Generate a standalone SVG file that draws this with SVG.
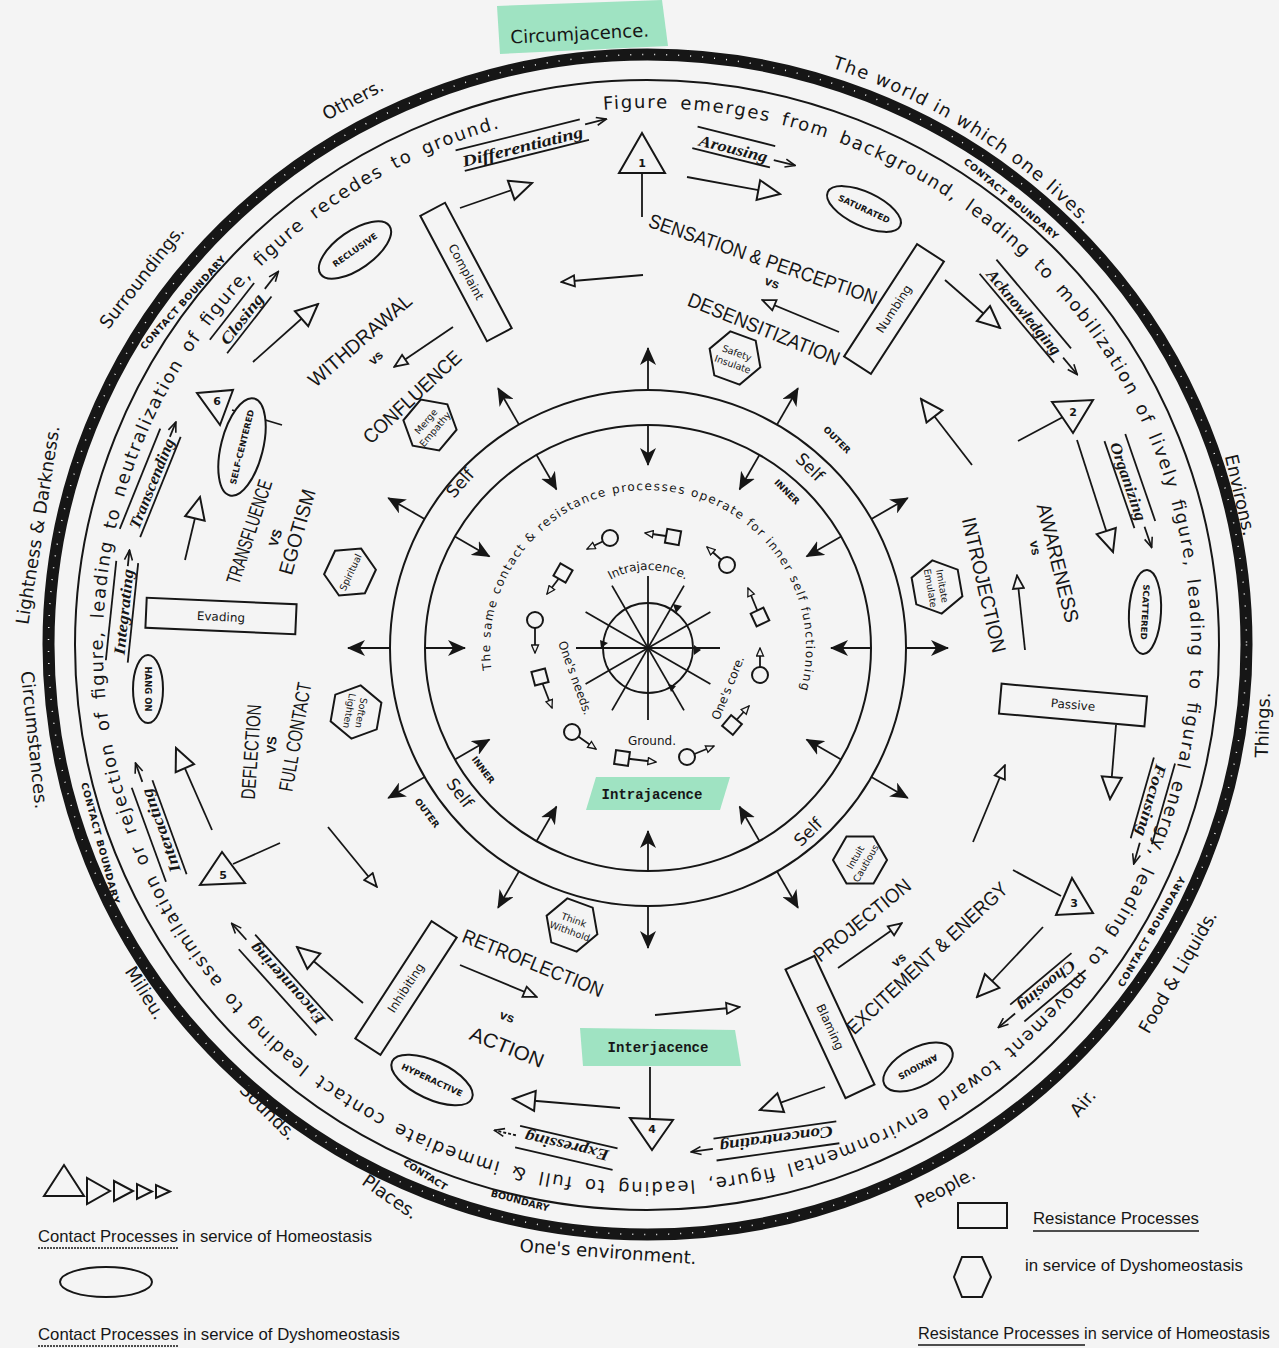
<svg xmlns="http://www.w3.org/2000/svg" width="1279" height="1348" viewBox="0 0 1279 1348">
<defs>
<style>
.ln{stroke:#161616;stroke-width:1.8;fill:none}
.shape{fill:#f4f4f4;stroke:#161616;stroke-width:2}
.ring{font-family:"DejaVu Sans",sans-serif;font-size:18px;fill:#161616;word-spacing:4px}
.out{font-family:"DejaVu Sans",sans-serif;font-size:18px;fill:#161616}
.cb{font-family:"DejaVu Sans",sans-serif;font-size:9.5px;font-weight:bold;fill:#161616}
.big{font-family:"Liberation Sans",sans-serif;font-size:20px;fill:#161616}
.vs{font-family:"Liberation Sans",sans-serif;font-size:13px;fill:#161616;font-weight:bold}
.flow{font-family:"Liberation Serif",serif;font-style:italic;font-weight:bold;font-size:16px;fill:#161616}
.node{font-family:"DejaVu Sans",sans-serif;font-size:12px;fill:#161616}
.el{font-family:"DejaVu Sans",sans-serif;font-size:8.5px;font-weight:bold;fill:#161616}
.hx{font-family:"DejaVu Sans",sans-serif;font-size:9.5px;fill:#161616}
.num{font-family:"DejaVu Sans",sans-serif;font-size:11px;font-weight:bold;fill:#161616}
.self{font-family:"DejaVu Sans",sans-serif;font-size:17px;fill:#161616}
.io{font-family:"DejaVu Sans",sans-serif;font-size:9px;font-weight:bold;fill:#161616}
.core{font-family:"DejaVu Sans",sans-serif;font-size:12px;fill:#161616}
.mono{font-family:"Liberation Mono",monospace;font-size:14px;font-weight:bold;fill:#161616}
.leg{font-family:"Liberation Sans",sans-serif;font-size:17px;fill:#161616}
.hl{fill:#8fdfb8;opacity:0.85}
</style>
<marker id="ot" viewBox="0 0 26 24" refX="24" refY="12" markerWidth="26" markerHeight="24" orient="auto" markerUnits="userSpaceOnUse"><path d="M2,2 L24,12 L2,22 Z" fill="#f4f4f4" stroke="#161616" stroke-width="2"/></marker>
<marker id="os" viewBox="0 0 16 14" refX="15" refY="7" markerWidth="16" markerHeight="14" orient="auto" markerUnits="userSpaceOnUse"><path d="M1.5,1.5 L14.5,7 L1.5,12.5 Z" fill="#f4f4f4" stroke="#161616" stroke-width="1.8"/></marker>
<marker id="oc" viewBox="0 0 10 9" refX="9" refY="4.5" markerWidth="10" markerHeight="9" orient="auto" markerUnits="userSpaceOnUse"><path d="M1,1 L9,4.5 L1,8 Z" fill="#f4f4f4" stroke="#161616" stroke-width="1.3"/></marker>
<marker id="ft" viewBox="0 0 18 16" refX="17" refY="8" markerWidth="18" markerHeight="16" orient="auto" markerUnits="userSpaceOnUse"><path d="M0,0 L18,8 L0,16 L5,8 Z" fill="#161616"/></marker>
<marker id="la" viewBox="0 0 12 10" refX="11" refY="5" markerWidth="12" markerHeight="10" orient="auto" markerUnits="userSpaceOnUse"><path d="M1,1 L11,5 L1,9" fill="none" stroke="#161616" stroke-width="1.6"/></marker>
<path id="ringPath" d="M599.6,110 A544,537 0 1 1 694.4,1180 A544,537 0 1 1 599.6,110"/>
<path id="worldPath" d="M824.2,65.5 A606,606 0 0 1 1097.3,239.5"/>
<path id="corePath" d="M491.5,670 A158,158 0 1 1 796.5,702"/>
<path id="intraPath" d="M603.3,584.1 A78,78 0 0 1 692.7,584.1"/>
</defs>

<rect width="1279" height="1348" fill="#f4f4f4"/>

<g id="rings">
<ellipse cx="647.5" cy="644.5" rx="599" ry="590" fill="none" stroke="#161616" stroke-width="12"/>
<ellipse cx="647.5" cy="644.5" rx="599" ry="590" fill="none" stroke="#f4f4f4" stroke-width="1.5" stroke-dasharray="1 11"/>
<ellipse cx="647" cy="645" rx="572" ry="565" fill="none" stroke="#161616" stroke-width="2"/>
<circle cx="648" cy="648" r="258" fill="none" stroke="#161616" stroke-width="2"/>
<circle cx="648" cy="648" r="223" fill="none" stroke="#161616" stroke-width="2"/>
</g>

<g id="highlights">
<polygon class="hl" points="497,6 662,0 668,46 500,54"/>
<polygon class="hl" points="596,777 730,777 720,810 586,810"/>
<polygon class="hl" points="580,1028 735,1030 741,1066 583,1066"/>
</g>

<g id="core-star">
<circle cx="648" cy="648" r="45" fill="none" stroke="#161616" stroke-width="1.8"/>
<line class="ln" x1="576" y1="648" x2="720" y2="648"/>
<line class="ln" x1="648" y1="576" x2="648" y2="720"/>
<line class="ln" x1="585.6" y1="612" x2="710.4" y2="684"/>
<line class="ln" x1="585.6" y1="684" x2="710.4" y2="612"/>
<line class="ln" x1="612" y1="585.6" x2="684" y2="710.4"/>
<line class="ln" x1="612" y1="710.4" x2="684" y2="585.6"/>
<polygon points="673,604 682,606 676,613" fill="#161616"/>
<polygon points="600,640 608,643 601,648" fill="#161616"/>
<polygon points="694,645 701,650 694,655" fill="#161616"/>
<polygon points="668,684 676,686 671,692" fill="#161616"/>
</g>

<g id="connectors">
<line class="ln" x1="460" y1="208" x2="532" y2="183" marker-end="url(#ot)"/>
<line class="ln" x1="687" y1="177" x2="780" y2="194" marker-end="url(#ot)"/>
<line class="ln" x1="642" y1="173" x2="642" y2="217"/>
<line class="ln" x1="945" y1="280" x2="1000" y2="328" marker-end="url(#ot)"/>
<line class="ln" x1="1018" y1="441" x2="1063" y2="417"/>
<line class="ln" x1="972" y1="465" x2="921" y2="399" marker-end="url(#ot)"/>
<line class="ln" x1="1077" y1="440" x2="1113" y2="552" marker-end="url(#ot)"/>
<line class="ln" x1="1025" y1="650" x2="1017" y2="575" marker-end="url(#os)"/>
<line class="ln" x1="1116" y1="725" x2="1110" y2="799" marker-end="url(#ot)"/>
<line class="ln" x1="973" y1="842" x2="1005" y2="765" marker-end="url(#os)"/>
<line class="ln" x1="1013" y1="870" x2="1061" y2="896"/>
<line class="ln" x1="1043" y1="927" x2="977" y2="997" marker-end="url(#ot)"/>
<line class="ln" x1="838" y1="968" x2="902" y2="923" marker-end="url(#os)"/>
<line class="ln" x1="825" y1="1087" x2="760" y2="1110" marker-end="url(#ot)"/>
<line class="ln" x1="655" y1="1015" x2="740" y2="1007" marker-end="url(#os)"/>
<line class="ln" x1="650" y1="1067" x2="650" y2="1119"/>
<line class="ln" x1="620" y1="1108" x2="513" y2="1099" marker-end="url(#ot)"/>
<line class="ln" x1="460" y1="965" x2="537" y2="997" marker-end="url(#os)"/>
<line class="ln" x1="363" y1="1003" x2="297" y2="947" marker-end="url(#ot)"/>
<line class="ln" x1="280" y1="843" x2="233" y2="864"/>
<line class="ln" x1="212" y1="830" x2="176" y2="748" marker-end="url(#ot)"/>
<line class="ln" x1="328" y1="827" x2="377" y2="887" marker-end="url(#os)"/>
<line class="ln" x1="185" y1="560" x2="200" y2="497" marker-end="url(#ot)"/>
<line class="ln" x1="282" y1="425" x2="232" y2="410"/>
<line class="ln" x1="253" y1="362" x2="318" y2="304" marker-end="url(#ot)"/>
<line class="ln" x1="453" y1="327" x2="394" y2="367" marker-end="url(#os)"/>
<line class="ln" x1="643" y1="275" x2="561" y2="282" marker-end="url(#os)"/>
<line class="ln" x1="839" y1="332" x2="762" y2="300" marker-end="url(#os)"/>
<g id="inward-arrows">
<line class="ln" x1="871" y1="648" x2="831" y2="648" marker-end="url(#ft)"/>
<line class="ln" x1="841.1" y1="759.5" x2="806.5" y2="739.5" marker-end="url(#ft)"/>
<line class="ln" x1="759.5" y1="841.1" x2="739.5" y2="806.5" marker-end="url(#ft)"/>
<line class="ln" x1="648" y1="871" x2="648" y2="831" marker-end="url(#ft)"/>
<line class="ln" x1="536.5" y1="841.1" x2="556.5" y2="806.5" marker-end="url(#ft)"/>
<line class="ln" x1="454.9" y1="759.5" x2="489.5" y2="739.5" marker-end="url(#ft)"/>
<line class="ln" x1="425" y1="648" x2="465" y2="648" marker-end="url(#ft)"/>
<line class="ln" x1="454.9" y1="536.5" x2="489.5" y2="556.5" marker-end="url(#ft)"/>
<line class="ln" x1="536.5" y1="454.9" x2="556.5" y2="489.5" marker-end="url(#ft)"/>
<line class="ln" x1="648" y1="425" x2="648" y2="465" marker-end="url(#ft)"/>
<line class="ln" x1="759.5" y1="454.9" x2="739.5" y2="489.5" marker-end="url(#ft)"/>
<line class="ln" x1="841.1" y1="536.5" x2="806.5" y2="556.5" marker-end="url(#ft)"/>
</g>
<g id="outward-arrows">
<line class="ln" x1="906" y1="648" x2="948" y2="648" marker-end="url(#ft)"/>
<line class="ln" x1="871.4" y1="777" x2="907.8" y2="798" marker-end="url(#ft)"/>
<line class="ln" x1="777" y1="871.4" x2="798" y2="907.8" marker-end="url(#ft)"/>
<line class="ln" x1="648" y1="906" x2="648" y2="948" marker-end="url(#ft)"/>
<line class="ln" x1="519" y1="871.4" x2="498" y2="907.8" marker-end="url(#ft)"/>
<line class="ln" x1="424.6" y1="777" x2="388.2" y2="798" marker-end="url(#ft)"/>
<line class="ln" x1="390" y1="648" x2="348" y2="648" marker-end="url(#ft)"/>
<line class="ln" x1="424.6" y1="519" x2="388.2" y2="498" marker-end="url(#ft)"/>
<line class="ln" x1="519" y1="424.6" x2="498" y2="388.2" marker-end="url(#ft)"/>
<line class="ln" x1="648" y1="390" x2="648" y2="348" marker-end="url(#ft)"/>
<line class="ln" x1="777" y1="424.6" x2="798" y2="388.2" marker-end="url(#ft)"/>
<line class="ln" x1="871.4" y1="519" x2="907.8" y2="498" marker-end="url(#ft)"/>
</g>
<g id="core-arrows">
<line class="ln" x1="610" y1="538" x2="587" y2="549" marker-end="url(#oc)"/>
<line class="ln" x1="673" y1="537" x2="645" y2="533" marker-end="url(#oc)"/>
<line class="ln" x1="727" y1="565" x2="707" y2="547" marker-end="url(#oc)"/>
<line class="ln" x1="760" y1="617" x2="748" y2="588" marker-end="url(#oc)"/>
<line class="ln" x1="760" y1="675" x2="760" y2="648" marker-end="url(#oc)"/>
<line class="ln" x1="732" y1="725" x2="749" y2="706" marker-end="url(#oc)"/>
<line class="ln" x1="687" y1="757" x2="714" y2="746" marker-end="url(#oc)"/>
<line class="ln" x1="622" y1="758" x2="656" y2="762" marker-end="url(#oc)"/>
<line class="ln" x1="572" y1="732" x2="596" y2="749" marker-end="url(#oc)"/>
<line class="ln" x1="540" y1="677" x2="552" y2="708" marker-end="url(#oc)"/>
<line class="ln" x1="535" y1="620" x2="535" y2="653" marker-end="url(#oc)"/>
<line class="ln" x1="563" y1="573" x2="547" y2="594" marker-end="url(#oc)"/>
</g>
</g>

<g id="core-icons">
<circle class="shape" cx="610" cy="538" r="8" stroke-width="1.6"/>
<rect class="shape" x="666" y="530" width="14" height="14" transform="rotate(10 673 537)" stroke-width="1.6"/>
<circle class="shape" cx="727" cy="565" r="8" stroke-width="1.6"/>
<rect class="shape" x="753" y="610" width="14" height="14" transform="rotate(-25 760 617)" stroke-width="1.6"/>
<circle class="shape" cx="760" cy="675" r="8" stroke-width="1.6"/>
<rect class="shape" x="725" y="718" width="14" height="14" transform="rotate(40 732 725)" stroke-width="1.6"/>
<circle class="shape" cx="687" cy="757" r="8" stroke-width="1.6"/>
<rect class="shape" x="615" y="751" width="14" height="14" transform="rotate(8 622 758)" stroke-width="1.6"/>
<circle class="shape" cx="572" cy="732" r="8" stroke-width="1.6"/>
<rect class="shape" x="533" y="670" width="14" height="14" transform="rotate(-15 540 677)" stroke-width="1.6"/>
<circle class="shape" cx="535" cy="620" r="8" stroke-width="1.6"/>
<rect class="shape" x="556" y="566" width="14" height="14" transform="rotate(30 563 573)" stroke-width="1.6"/>
</g>

<g id="core-texts">
<text class="core"><textPath href="#intraPath" startOffset="50%" text-anchor="middle">Intrajacence.</textPath></text>
<text class="core" transform="translate(728,688) rotate(-68)" text-anchor="middle" dy="4">One's core.</text>
<text class="core" x="652" y="745" text-anchor="middle">Ground.</text>
<text class="core" transform="translate(575,678) rotate(70)" text-anchor="middle" dy="4">One's needs.</text>
<text class="core" font-size="12.5"><textPath href="#corePath" textLength="560" lengthAdjust="spacing">The same contact &amp; resistance processes operate for inner self functioning</textPath></text>
<text class="mono" x="652" y="799" text-anchor="middle">Intrajacence</text>
<text class="mono" x="658" y="1052" text-anchor="middle">Interjacence</text>
</g>

<g id="self-labels">
<text class="self" transform="translate(460,483) rotate(-48)" text-anchor="middle" dy="6">Self</text>
<text class="io" transform="translate(837,440) rotate(45)" text-anchor="middle" dy="3">OUTER</text>
<text class="self" transform="translate(810,467) rotate(45)" text-anchor="middle" dy="6">Self</text>
<text class="io" transform="translate(787,492) rotate(45)" text-anchor="middle" dy="3">INNER</text>
<text class="io" transform="translate(483,770) rotate(53)" text-anchor="middle" dy="3">INNER</text>
<text class="self" transform="translate(460,793) rotate(53)" text-anchor="middle" dy="6">Self</text>
<text class="io" transform="translate(427,813) rotate(53)" text-anchor="middle" dy="3">OUTER</text>
<text class="self" transform="translate(808,832) rotate(-45)" text-anchor="middle" dy="6">Self</text>
</g>

<g id="ring-text">
<text class="ring"><textPath href="#ringPath" startOffset="4" textLength="3290" lengthAdjust="spacing">Figure emerges from background, leading to mobilization of lively figure, leading to figural energy, leading to movement toward environmental figure, leading to full &amp; immediate contact leading to assimilation or rejection of figure, leading to neutralization of figure, figure recedes to ground.</textPath></text>
</g>

<g id="outer-labels">
<text class="out" transform="translate(580,40) rotate(-3)" text-anchor="middle">Circumjacence.</text>
<text class="out" font-size="19"><textPath href="#worldPath" startOffset="8" textLength="300" lengthAdjust="spacing">The world in which one lives.</textPath></text>
<text class="out" transform="translate(1240,495) rotate(77)" text-anchor="middle" dy="6">Environs.</text>
<text class="out" transform="translate(1263,725) rotate(-88)" text-anchor="middle" dy="6">Things.</text>
<text class="out" transform="translate(1178,972) rotate(-60)" text-anchor="middle" dy="6">Food &amp; Liquids.</text>
<text class="out" transform="translate(1083,1103) rotate(-50)" text-anchor="middle" dy="6">Air.</text>
<text class="out" transform="translate(945,1188) rotate(-28)" text-anchor="middle" dy="6">People.</text>
<text class="out" transform="translate(608,1252) rotate(4)" text-anchor="middle" dy="6">One's environment.</text>
<text class="out" transform="translate(390,1197) rotate(35)" text-anchor="middle" dy="6">Places.</text>
<text class="out" transform="translate(268,1112) rotate(45)" text-anchor="middle" dy="6">Sounds.</text>
<text class="out" transform="translate(145,993) rotate(58)" text-anchor="middle" dy="6">Milieu.</text>
<text class="out" transform="translate(34,740) rotate(84)" text-anchor="middle" dy="6">Circumstances.</text>
<text class="out" transform="translate(38,525) rotate(-81)" text-anchor="middle" dy="6">Lightness &amp; Darkness.</text>
<text class="out" transform="translate(142,277) rotate(-52)" text-anchor="middle" dy="6">Surroundings.</text>
<text class="out" transform="translate(353,100) rotate(-28)" text-anchor="middle" dy="6">Others.</text>
</g>

<g id="contact-boundary">
<text class="cb" transform="translate(183,303) rotate(-48)" text-anchor="middle" dy="3" textLength="122" lengthAdjust="spacing">CONTACT  BOUNDARY</text>
<text class="cb" transform="translate(1011,199) rotate(40)" text-anchor="middle" dy="3" textLength="120" lengthAdjust="spacing">CONTACT  BOUNDARY</text>
<text class="cb" transform="translate(1152,932) rotate(-60)" text-anchor="middle" dy="3" textLength="125" lengthAdjust="spacing">CONTACT  BOUNDARY</text>
<text class="cb" transform="translate(425,1175) rotate(32)" text-anchor="middle" dy="3">CONTACT</text>
<text class="cb" transform="translate(520,1201) rotate(15)" text-anchor="middle" dy="3">BOUNDARY</text>
<text class="cb" transform="translate(100,843) rotate(75)" text-anchor="middle" dy="3" textLength="125" lengthAdjust="spacing">CONTACT  BOUNDARY</text>
</g>

<g id="pairs">
<text class="big" transform="translate(763,259) rotate(19)" text-anchor="middle" dy="7" textLength="240" lengthAdjust="spacingAndGlyphs">SENSATION &amp; PERCEPTION</text>
<text class="vs" transform="translate(772,283) rotate(20)" text-anchor="middle" dy="4">vs</text>
<text class="big" transform="translate(764,329) rotate(22)" text-anchor="middle" dy="7" textLength="162" lengthAdjust="spacingAndGlyphs">DESENSITIZATION</text>
<text class="big" transform="translate(360,340) rotate(-41)" text-anchor="middle" dy="7" textLength="130" lengthAdjust="spacingAndGlyphs">WITHDRAWAL</text>
<text class="vs" transform="translate(376,358) rotate(-41)" text-anchor="middle" dy="4">vs</text>
<text class="big" transform="translate(412,397) rotate(-43)" text-anchor="middle" dy="7" textLength="126" lengthAdjust="spacingAndGlyphs">CONFLUENCE</text>
<text class="big" transform="translate(1058,563) rotate(76)" text-anchor="middle" dy="7" textLength="122" lengthAdjust="spacingAndGlyphs">AWARENESS</text>
<text class="vs" transform="translate(1035,548) rotate(80)" text-anchor="middle" dy="4">vs</text>
<text class="big" transform="translate(984,585) rotate(77)" text-anchor="middle" dy="7" textLength="138" lengthAdjust="spacingAndGlyphs">INTROJECTION</text>
<text class="big" transform="translate(862,920) rotate(-39)" text-anchor="middle" dy="7" textLength="119" lengthAdjust="spacingAndGlyphs">PROJECTION</text>
<text class="vs" transform="translate(899,960) rotate(-40)" text-anchor="middle" dy="4">vs</text>
<text class="big" transform="translate(927,958) rotate(-43)" text-anchor="middle" dy="7" textLength="212" lengthAdjust="spacingAndGlyphs">EXCITEMENT &amp; ENERGY</text>
<text class="big" transform="translate(533,963) rotate(22)" text-anchor="middle" dy="7" textLength="150" lengthAdjust="spacingAndGlyphs">RETROFLECTION</text>
<text class="vs" transform="translate(507,1017) rotate(20)" text-anchor="middle" dy="4">vs</text>
<text class="big" transform="translate(507,1047) rotate(22)" text-anchor="middle" dy="7" textLength="78" lengthAdjust="spacingAndGlyphs">ACTION</text>
<text class="big" font-size="17" transform="translate(252,752) rotate(-86)" text-anchor="middle" dy="6" textLength="95" lengthAdjust="spacingAndGlyphs">DEFLECTION</text>
<text class="vs" transform="translate(272,745) rotate(-86)" text-anchor="middle" dy="4">VS</text>
<text class="big" font-size="17" transform="translate(296,737) rotate(-80)" text-anchor="middle" dy="6" textLength="110" lengthAdjust="spacingAndGlyphs">FULL CONTACT</text>
<text class="big" font-size="18" transform="translate(250,532) rotate(-72)" text-anchor="middle" dy="6" textLength="108" lengthAdjust="spacingAndGlyphs">TRANSFLUENCE</text>
<text class="vs" transform="translate(276,538) rotate(-72)" text-anchor="middle" dy="4">VS</text>
<text class="big" font-size="18" transform="translate(298,532) rotate(-74)" text-anchor="middle" dy="6" textLength="88" lengthAdjust="spacingAndGlyphs">EGOTISM</text>
</g>

<g id="flow-labels">
<g id="f-differentiating" transform="translate(523,148) rotate(-14)"><line class="ln" x1="-66" y1="-14" x2="62" y2="-14"/><text class="flow" y="4" text-anchor="middle" textLength="124" lengthAdjust="spacingAndGlyphs">Differentiating</text><line class="ln" x1="-62" y1="8" x2="66" y2="8"/><line class="ln" x1="66" y1="-8" x2="88" y2="-8" marker-end="url(#la)"/></g>
<g id="f-arousing" transform="translate(733,150) rotate(14)"><line class="ln" x1="-40" y1="-14" x2="40" y2="-14"/><text class="flow" y="4" text-anchor="middle" textLength="70" lengthAdjust="spacingAndGlyphs">Arousing</text><line class="ln" x1="-40" y1="8" x2="40" y2="8"/><line class="ln" x1="42" y1="0" x2="64" y2="0" marker-end="url(#la)"/></g>
<g id="f-acknowledging" transform="translate(1023,313) rotate(50)"><line class="ln" x1="-58" y1="-14" x2="58" y2="-14"/><text class="flow" y="4" text-anchor="middle" textLength="106" lengthAdjust="spacingAndGlyphs">Acknowledging</text><line class="ln" x1="-58" y1="8" x2="58" y2="8"/><line class="ln" x1="60" y1="-2" x2="82" y2="-2" marker-end="url(#la)"/></g>
<g id="f-organizing" transform="translate(1127,482) rotate(71)"><line class="ln" x1="-46" y1="-14" x2="46" y2="-14"/><text class="flow" y="4" text-anchor="middle" textLength="82" lengthAdjust="spacingAndGlyphs">Organizing</text><line class="ln" x1="-46" y1="8" x2="46" y2="8"/><line class="ln" x1="48" y1="-2" x2="70" y2="-2" marker-end="url(#la)"/></g>
<g id="f-focusing" transform="translate(1150,800) rotate(106)"><line class="ln" x1="-42" y1="-14" x2="42" y2="-14"/><text class="flow" y="4" text-anchor="middle" textLength="74" lengthAdjust="spacingAndGlyphs">Focusing</text><line class="ln" x1="-42" y1="8" x2="42" y2="8"/><line class="ln" x1="44" y1="-2" x2="66" y2="-2" marker-end="url(#la)"/></g>
<g id="f-choosing" transform="translate(1046,985) rotate(140)"><line class="ln" x1="-40" y1="-14" x2="40" y2="-14"/><text class="flow" y="4" text-anchor="middle" textLength="70" lengthAdjust="spacingAndGlyphs">Choosing</text><line class="ln" x1="-40" y1="8" x2="40" y2="8"/><line class="ln" x1="42" y1="-2" x2="64" y2="-2" marker-end="url(#la)"/></g>
<g id="f-concentrating" transform="translate(776,1138) rotate(172)"><line class="ln" x1="-62" y1="-14" x2="62" y2="-14"/><text class="flow" y="4" text-anchor="middle" textLength="114" lengthAdjust="spacingAndGlyphs">Concentrating</text><line class="ln" x1="-62" y1="8" x2="62" y2="8"/><line class="ln" x1="64" y1="-2" x2="86" y2="-2" marker-end="url(#la)"/></g>
<g id="f-expressing" transform="translate(567,1145) rotate(193)"><line class="ln" x1="-50" y1="-14" x2="50" y2="-14"/><text class="flow" y="4" text-anchor="middle" textLength="86" lengthAdjust="spacingAndGlyphs">Expressing</text><line class="ln" x1="-50" y1="8" x2="50" y2="8"/><line class="ln" x1="52" y1="-2" x2="74" y2="-2" stroke-dasharray="3 2" marker-end="url(#la)"/></g>
<g id="f-encountering" transform="translate(288,983) rotate(228)"><line class="ln" x1="-58" y1="-14" x2="58" y2="-14"/><text class="flow" y="4" text-anchor="middle" textLength="104" lengthAdjust="spacingAndGlyphs">Encountering</text><line class="ln" x1="-58" y1="8" x2="58" y2="8"/><line class="ln" x1="60" y1="-2" x2="82" y2="-2" marker-end="url(#la)"/></g>
<g id="f-interacting" transform="translate(162,830) rotate(250)"><line class="ln" x1="-50" y1="-14" x2="50" y2="-14"/><text class="flow" y="4" text-anchor="middle" textLength="88" lengthAdjust="spacingAndGlyphs">Interacting</text><line class="ln" x1="-50" y1="8" x2="50" y2="8"/><line class="ln" x1="52" y1="-2" x2="72" y2="-2" marker-end="url(#la)"/></g>
<g id="f-integrating" transform="translate(125,612) rotate(-84)"><line class="ln" x1="-50" y1="-14" x2="50" y2="-14"/><text class="flow" y="4" text-anchor="middle" textLength="86" lengthAdjust="spacingAndGlyphs">Integrating</text><line class="ln" x1="-50" y1="8" x2="50" y2="8"/><line class="ln" x1="46" y1="-2" x2="62" y2="-2" marker-end="url(#la)"/></g>
<g id="f-transcending" transform="translate(153,484) rotate(-68)"><line class="ln" x1="-54" y1="-14" x2="54" y2="-14"/><text class="flow" y="4" text-anchor="middle" textLength="96" lengthAdjust="spacingAndGlyphs">Transcending</text><line class="ln" x1="-54" y1="8" x2="54" y2="8"/><line class="ln" x1="50" y1="-2" x2="66" y2="-2" marker-end="url(#la)"/></g>
<g id="f-closing" transform="translate(243,320) rotate(-52)"><line class="ln" x1="-36" y1="-14" x2="36" y2="-14"/><text class="flow" y="4" text-anchor="middle" textLength="60" lengthAdjust="spacingAndGlyphs">Closing</text><line class="ln" x1="-36" y1="8" x2="36" y2="8"/><line class="ln" x1="38" y1="-2" x2="60" y2="-2" marker-end="url(#la)"/></g>
</g>

<g id="triangles">
<g id="tri1"><polygon class="shape" points="642,133 619,173 665,173"/><text class="num" x="642" y="167" text-anchor="middle">1</text></g>
<g id="tri2"><polygon class="shape" points="1052,402 1093,400 1073,433"/><text class="num" x="1073" y="416" text-anchor="middle">2</text></g>
<g id="tri3"><polygon class="shape" points="1072,878 1056,915 1093,913"/><text class="num" x="1074" y="907" text-anchor="middle">3</text></g>
<g id="tri4"><polygon class="shape" points="630,1118 673,1120 652,1150"/><text class="num" x="652" y="1133" text-anchor="middle">4</text></g>
<g id="tri5"><polygon class="shape" points="222,852 200,885 245,883"/><text class="num" x="223" y="879" text-anchor="middle">5</text></g>
<g id="tri6"><polygon class="shape" points="197,393 233,390 220,425"/><text class="num" x="217" y="405" text-anchor="middle">6</text></g>
</g>

<g id="rects">
<g id="r-complaint" transform="translate(466,272) rotate(62)"><rect class="shape" x="-71" y="-14" width="142" height="28"/><text class="node" y="4" text-anchor="middle">Complaint</text></g>
<g id="r-numbing" transform="translate(894,309) rotate(-57)"><rect class="shape" x="-67" y="-16" width="134" height="32"/><text class="node" y="4" text-anchor="middle">Numbing</text></g>
<g id="r-passive" transform="translate(1073,705) rotate(5)"><rect class="shape" x="-73" y="-15" width="146" height="30"/><text class="node" y="4" text-anchor="middle">Passive</text></g>
<g id="r-blaming" transform="translate(830,1027) rotate(65)"><rect class="shape" x="-71" y="-16" width="142" height="32"/><text class="node" y="4" text-anchor="middle">Blaming</text></g>
<g id="r-inhibiting" transform="translate(406,988) rotate(-57)"><rect class="shape" x="-70" y="-15" width="140" height="30"/><text class="node" y="4" text-anchor="middle">Inhibiting</text></g>
<g id="r-evading" transform="translate(221,616) rotate(2.5)"><rect class="shape" x="-75" y="-15" width="150" height="30"/><text class="node" y="5" text-anchor="middle">Evading</text></g>
</g>

<g id="ellipses">
<g id="e-saturated" transform="translate(864,209) rotate(25)"><ellipse class="shape" rx="40" ry="17"/><text class="el" y="3" text-anchor="middle">SATURATED</text></g>
<g id="e-reclusive" transform="translate(355,250) rotate(-35)"><ellipse class="shape" rx="42" ry="19"/><text class="el" y="3" text-anchor="middle">RECLUSIVE</text></g>
<g id="e-scattered" transform="translate(1145,612) rotate(93)"><ellipse class="shape" rx="42" ry="16"/><text class="el" y="3" text-anchor="middle">SCATTERED</text></g>
<g id="e-anxious" transform="translate(918,1067) rotate(152)"><ellipse class="shape" rx="38" ry="19"/><text class="el" y="3" text-anchor="middle">ANXIOUS</text></g>
<g id="e-hyperactive" transform="translate(432,1080) rotate(25)"><ellipse class="shape" rx="44" ry="19"/><text class="el" y="3" text-anchor="middle">HYPERACTIVE</text></g>
<g id="e-hangon" transform="translate(148,689) rotate(90)"><ellipse class="shape" rx="34" ry="15"/><text class="el" y="3" text-anchor="middle">HANG ON</text></g>
<g id="e-selfcentered" transform="translate(242,447) rotate(-76)"><ellipse class="shape" rx="50" ry="21"/><text class="el" y="3" text-anchor="middle">SELF-CENTERED</text></g>
</g>

<g id="hexagons">
<g id="h-safety" transform="translate(735,358) rotate(20)"><polygon class="shape" points="27,0 13.5,23.4 -13.5,23.4 -27,0 -13.5,-23.4 13.5,-23.4"/><text class="hx" y="-2" text-anchor="middle">Safety</text><text class="hx" y="10" text-anchor="middle">Insulate</text></g>
<g id="h-merge" transform="translate(430,425) rotate(-50)"><polygon class="shape" points="27,0 13.5,23.4 -13.5,23.4 -27,0 -13.5,-23.4 13.5,-23.4"/><text class="hx" y="-2" text-anchor="middle">Merge</text><text class="hx" y="10" text-anchor="middle">Empathy</text></g>
<g id="h-imitate" transform="translate(937,587) rotate(80)"><polygon class="shape" points="27,0 13.5,23.4 -13.5,23.4 -27,0 -13.5,-23.4 13.5,-23.4"/><text class="hx" y="-2" text-anchor="middle">Imitate</text><text class="hx" y="10" text-anchor="middle">Emulate</text></g>
<g id="h-intuit" transform="translate(860,860) rotate(-60)"><polygon class="shape" points="27,0 13.5,23.4 -13.5,23.4 -27,0 -13.5,-23.4 13.5,-23.4"/><text class="hx" y="-2" text-anchor="middle">Intuit</text><text class="hx" y="10" text-anchor="middle">Cautious</text></g>
<g id="h-think" transform="translate(572,925) rotate(20)"><polygon class="shape" points="27,0 13.5,23.4 -13.5,23.4 -27,0 -13.5,-23.4 13.5,-23.4"/><text class="hx" y="-2" text-anchor="middle">Think</text><text class="hx" y="10" text-anchor="middle">Withhold</text></g>
<g id="h-soften" transform="translate(356,712) rotate(100)"><polygon class="shape" points="27,0 13.5,23.4 -13.5,23.4 -27,0 -13.5,-23.4 13.5,-23.4"/><text class="hx" y="-2" text-anchor="middle">Soften</text><text class="hx" y="10" text-anchor="middle">Lighten</text></g>
<g id="h-spiritual" transform="translate(350,572) rotate(-65)"><polygon class="shape" points="26,0 13,22.5 -13,22.5 -26,0 -13,-22.5 13,-22.5"/><text class="hx" y="4" text-anchor="middle">Spiritual</text></g>
</g>

<g id="legend">
<polygon class="shape" points="44,1196 84,1196 64,1165"/>
<polygon class="shape" points="87,1178 87,1204 110,1191"/>
<polygon class="shape" points="114,1181 114,1201 133,1191"/>
<polygon class="shape" points="137,1184 137,1199 152,1191.5" stroke-width="1.6"/>
<polygon class="shape" points="156,1185 156,1198 170,1191.5" stroke-width="1.6"/>
<text class="leg" x="38" y="1242" textLength="334" lengthAdjust="spacingAndGlyphs">Contact Processes in service of Homeostasis</text>
<line x1="38" y1="1248" x2="178" y2="1248" stroke="#161616" stroke-width="1.5" stroke-dasharray="2 1"/>
<ellipse class="shape" cx="106" cy="1282" rx="46" ry="15"/>
<text class="leg" x="38" y="1340" textLength="362" lengthAdjust="spacingAndGlyphs">Contact Processes in service of Dyshomeostasis</text>
<line x1="38" y1="1346" x2="178" y2="1346" stroke="#161616" stroke-width="1.5" stroke-dasharray="2 1"/>
<rect class="shape" x="958" y="1203" width="49" height="25"/>
<text class="leg" x="1033" y="1224" textLength="166" lengthAdjust="spacingAndGlyphs">Resistance Processes</text>
<line x1="1033" y1="1231" x2="1199" y2="1231" stroke="#161616" stroke-width="1.5"/>
<text class="leg" x="1025" y="1271" textLength="218" lengthAdjust="spacingAndGlyphs">in service of Dyshomeostasis</text>
<polygon class="shape" points="962,1257 982,1257 991,1277 982,1297 962,1297 954,1277"/>
<text class="leg" x="918" y="1339" textLength="352" lengthAdjust="spacingAndGlyphs">Resistance Processes in service of Homeostasis</text>
<line x1="918" y1="1345" x2="1085" y2="1345" stroke="#161616" stroke-width="1.5"/>
</g>
</svg>
